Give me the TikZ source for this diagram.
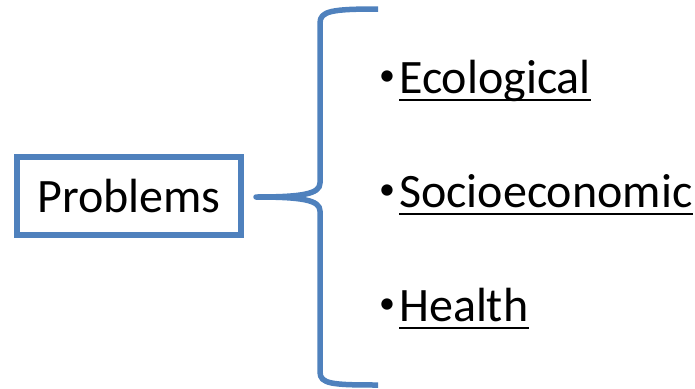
\documentclass[tikz,border=0pt]{standalone}
\usepackage{fontspec}
\setmainfont{Carlito}
\usetikzlibrary{positioning}
\definecolor{braceblue}{RGB}{79,129,189}
\begin{document}
\begin{tikzpicture}[x=1pt,y=-1pt]
  \tikzstyle{problembox}=[draw=braceblue, line width=5.5pt, minimum width=224pt, minimum height=78pt, inner sep=0pt, font=\fontsize{48}{52}\selectfont]
  \tikzstyle{item}=[anchor=base west, inner sep=0pt, font=\fontsize{48}{52}\selectfont]
  \tikzstyle{dot}=[anchor=base, inner sep=0pt, font=\fontsize{32}{34}\selectfont]
  \tikzstyle{brace}=[draw=braceblue, line width=5.5pt, line join=round]

  \useasboundingbox (0,0) rectangle (695,388);

  \node[problembox] (p) at (129,196) {Problems};

  \node[item] (e) at (399,93) {Ecological};
  \node[item] (s) at (399,207) {Socioeconomic};
  \node[item] (h) at (399,321) {Health};

  \foreach \w in {e,s,h} {
    \node[dot] (b\w) at ([xshift=-12pt,yshift=7.5pt]\w.base west) {•};
    \draw[line width=2.5pt] ([yshift=-7pt]\w.base west) -- ([yshift=-7pt]\w.base east);
  }

  % the brace
  \coordinate (tip) at (256,197);
  \draw[brace] (378,9) .. controls (332,9) and (320,11) .. (320,23) -- (320,183)
    .. controls (320,194) and (302,197) .. (tip)
    .. controls (302,197) and (320,200) .. (320,211) -- (320,372)
    .. controls (320,384) and (332,385) .. (378,385);
\end{tikzpicture}
\end{document}
